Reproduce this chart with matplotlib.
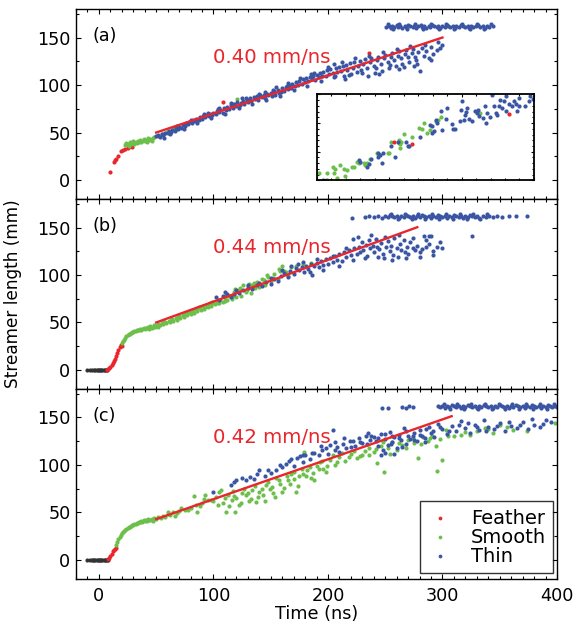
import matplotlib
matplotlib.use("Agg")
from matplotlib import pyplot as plt
from matplotlib.ticker import MultipleLocator

plt.rcParams["font.family"] = ["DejaVu Sans"]
plt.rcParams["font.size"] = 12.7

RED = "#e8262c"
GREEN = "#6cbf4a"
BLUE = "#3a55a4"
BLACK = "#333333"

# ---- panel (a) ----
a_feather = [(10, 8), (13, 19), (14, 21), (15, 22), (17, 25), (19, 31), (21, 32), (23, 33),
             (25, 34), (27, 36), (24, 38), (29, 35), (108, 82), (236, 134)]
a_smooth = [(23, 37), (24, 39), (25, 38), (26, 36), (27, 40), (28, 38), (29, 39), (30, 41),
            (31, 38), (32, 40), (33, 39), (34, 41), (35, 40), (36, 42), (37, 40), (38, 41),
            (39, 43), (40, 41), (41, 42), (42, 40), (43, 44), (44, 42), (45, 43), (46, 41),
            (47, 44), (48, 45), (52, 46), (55, 48), (58, 49), (60, 52), (62, 50), (65, 55),
            (68, 54), (121, 85)]
a_thin = [(50, 46), (52, 47), (53, 45), (55, 48), (56, 47), (58, 50), (60, 49), (61, 52), (63, 51),
          (64, 53), (66, 52), (67, 55), (69, 54), (70, 56), (72, 55), (73, 58), (75, 57), (76, 60),
          (78, 59), (79, 61), (81, 60), (82, 63), (84, 62), (85, 64), (87, 63), (88, 66), (90, 64),
          (91, 67), (93, 66), (94, 68), (96, 67), (97, 70), (99, 68), (100, 71), (102, 70), (103, 73),
          (105, 72), (106, 74), (108, 71), (109, 76), (111, 74), (112, 77), (114, 75), (115, 79),
          (117, 76), (118, 80), (120, 78), (121, 82), (123, 79), (124, 81), (126, 83), (127, 80),
          (129, 84), (130, 82), (132, 86), (133, 83), (135, 87), (136, 85), (138, 88), (139, 84),
          (141, 89), (142, 87), (144, 90), (145, 86), (147, 91), (148, 89), (150, 92), (151, 88),
          (153, 94), (154, 90), (156, 95), (157, 92), (159, 93), (160, 97), (162, 94), (163, 98),
          (165, 96), (166, 100), (168, 97), (169, 101), (171, 99), (172, 103), (174, 100), (175, 104),
          (177, 101), (178, 106), (180, 103), (181, 107), (183, 104), (184, 108), (186, 106),
          (187, 110), (189, 105), (190, 111), (192, 108), (193, 113), (195, 109), (196, 114),
          (198, 110), (199, 116), (201, 112), (202, 117), (204, 113), (205, 108), (207, 118),
          (208, 114), (210, 119), (211, 115), (213, 120), (214, 110), (216, 121), (217, 116),
          (219, 123), (220, 112), (222, 118), (223, 124), (225, 114), (226, 120), (228, 125),
          (229, 116), (231, 122), (232, 127), (234, 118), (235, 110), (237, 124), (238, 128),
          (240, 120), (241, 113), (243, 126), (244, 130), (246, 122), (247, 115), (249, 128),
          (250, 132), (252, 124), (253, 118), (255, 130), (256, 134), (258, 126), (259, 120),
          (261, 131), (262, 136), (264, 128), (265, 122), (267, 133), (268, 137), (270, 129),
          (271, 124), (273, 134), (274, 138), (276, 130), (277, 126), (279, 135), (280, 115),
          (282, 139), (284, 131), (286, 136), (288, 128), (290, 140), (292, 133), (295, 137),
          (298, 139), (300, 142)]
a_thin_wide = [(57, 44), (62, 48), (68, 57), (74, 54), (80, 63), (86, 60), (92, 69), (98, 65),
               (104, 75), (110, 69), (116, 80), (122, 76), (128, 86), (134, 80), (140, 91), (146, 84),
               (152, 95), (158, 88), (164, 99), (170, 95), (176, 107), (182, 99), (188, 113),
               (194, 104), (200, 119), (206, 110), (212, 124), (218, 111), (224, 128), (230, 113),
               (236, 131), (242, 118), (248, 135), (254, 121), (260, 138), (266, 119), (272, 141),
               (278, 122), (285, 142), (290, 126), (296, 145), (215, 106), (245, 112), (262, 117),
               (275, 120), (205, 122), (185, 112), (165, 102), (155, 98), (145, 93), (125, 86),
               (115, 81), (105, 76), (95, 71)]
a_plateau_t = [251, 253, 255, 256, 258, 260, 261, 263, 265, 267, 268, 270, 272, 274, 275, 277, 279,
               281, 282, 284, 286, 288, 289, 291, 293, 295, 296, 298, 300, 302, 304, 305, 307, 309,
               311, 312, 314, 316, 318, 320, 322, 323, 325, 327, 329, 331, 333, 335, 337, 339, 341, 344,
               252, 257, 262, 269, 276, 283, 290, 297, 303, 310, 317, 324, 330, 336, 342]
a_plateau_L = [161, 162, 160, 162, 161, 163, 161, 162, 160, 162, 161, 163, 162, 161, 162, 160, 162,
               163, 161, 162, 160, 162, 161, 163, 162, 161, 162, 160, 162, 161, 163, 162, 161, 162,
               160, 162, 161, 163, 162, 161, 162, 160, 162, 161, 162, 163, 161, 162, 160, 162, 161, 162,
               164, 159, 164, 159, 164, 159, 164, 159, 164, 159, 164, 159, 164, 159, 164]

# inset of panel (a)
ins_feather = [(10.6, 13.5), (13.1, 12.7), (26.6, 23.3)]
ins_smooth = [(0.3, 2.7), (1.4, 2.4), (1.3, 0.2), (1.4, 0.1), (2.3, 4.7), (2.5, 4.1), (2.4, 2.4),
              (2.8, 0.9), (3.2, 5.3), (3.7, 4.1), (3.9, 1.4), (4.2, 3.5), (4.8, 4.5), (5.1, 4.7),
              (5.5, 6.5), (5.8, 6.1), (6.5, 6.1), (6.7, 5.3), (6.9, 6.1), (7.4, 7.6), (8.3, 9.6),
              (8.5, 9.2), (9.8, 9.6), (10.0, 9.4), (10.2, 13.5), (11.3, 14.1), (11.4, 13.2),
              (11.5, 12.7), (11.7, 13.5), (11.5, 11.2), (12.1, 16.2), (13.2, 15.3), (14.1, 18.2),
              (14.8, 20.0), (14.5, 18.0), (15.2, 16.5), (15.7, 17.6), (16.5, 20.6), (17.1, 22.1),
              (16.8, 21.2), (22.6, 23.5)]
ins_thin = [(0.9, 0.2), (5.8, 7.1), (6.0, 6.5), (6.9, 4.7), (7.2, 5.6), (7.5, 7.6), (8.4, 9.4),
            (8.8, 8.8), (8.5, 8.2), (9.0, 6.1), (9.2, 9.6), (10.8, 8.2), (10.2, 12.0), (11.2, 13.3),
            (12.3, 13.5), (12.6, 12.1), (12.8, 12.0), (14.3, 15.3), (15.7, 19.4), (15.9, 18.8),
            (16.2, 17.3), (15.9, 16.5), (16.4, 21.2), (16.6, 20.0), (17.3, 17.6), (17.1, 24.1),
            (18.0, 25.3), (17.9, 21.4), (18.7, 19.6), (18.8, 17.9), (19.1, 17.9), (19.8, 20.6),
            (20.0, 27.6), (19.9, 24.5), (20.3, 21.2), (20.5, 22.9), (20.6, 23.8), (20.8, 25.3),
            (21.0, 21.4), (21.4, 20.6), (21.9, 24.1), (22.2, 23.5), (22.3, 24.7), (22.4, 22.4),
            (22.9, 21.8), (23.3, 25.9), (23.5, 23.5), (23.4, 20.0), (23.9, 22.1), (24.2, 29.7),
            (24.5, 26.1), (24.7, 23.5), (24.9, 22.9), (25.2, 26.1), (25.3, 28.2), (25.6, 25.3),
            (25.8, 27.6), (26.1, 29.6), (26.2, 24.1), (26.5, 26.5), (27.0, 25.9), (27.2, 27.6),
            (27.5, 26.5), (27.7, 24.1), (27.9, 28.8), (28.0, 26.1), (28.8, 26.1), (29.3, 27.6),
            (29.5, 29.6), (29.9, 28.5)]

# ---- panel (b) ----
b_idle_t = [-10, -8, -6, -4, -3, -2, -1, 0, 1, 2, 3, 4, 5, 6, 7]
b_feather = [(7, 0.5), (8, 1), (9, 2), (10, 3), (11, 5), (12, 7), (13, 9), (14, 12), (15, 15),
             (16, 18), (17, 21), (18, 24), (19, 26), (20, 25)]
b_smooth = [(20, 28), (21, 30), (22, 32), (23, 34), (24, 36), (25, 37), (26, 38), (27, 38), (28, 39),
            (29, 40), (30, 40), (31, 41), (32, 41), (33, 42), (34, 42), (35, 42), (36, 43), (37, 42),
            (38, 43), (39, 44), (40, 43), (41, 44), (42, 44), (43, 45), (44, 43), (45, 46), (46, 44),
            (47, 45), (48, 47), (49, 45), (50, 46), (52, 48), (53, 47), (55, 49), (56, 48), (58, 51),
            (59, 49), (61, 52), (62, 50), (64, 54), (65, 52), (67, 55), (68, 53), (70, 57), (71, 55),
            (73, 58), (74, 56), (76, 60), (77, 58), (79, 61), (80, 59), (82, 63), (83, 60), (85, 64),
            (86, 62), (88, 65), (89, 63), (91, 67), (92, 64), (94, 68), (95, 66), (97, 70), (98, 67),
            (100, 71), (101, 69), (103, 73), (104, 70), (106, 74), (108, 72), (110, 76), (112, 74),
            (114, 78), (116, 75), (118, 82), (120, 77), (122, 84), (124, 78), (126, 89), (128, 82),
            (130, 88), (133, 81), (134, 90), (136, 86), (138, 93), (140, 87), (142, 96), (145, 90),
            (148, 98), (150, 94), (153, 101), (156, 96), (158, 104), (160, 109), (163, 103), (165, 99)]
b_smooth_wide = [(52, 45), (57, 50), (63, 53), (69, 56), (75, 59), (81, 61), (87, 66), (93, 66),
                 (99, 72), (105, 71), (111, 79), (117, 78), (123, 86), (129, 84), (135, 92), (141, 90),
                 (147, 100), (152, 97), (157, 106), (162, 104), (168, 108), (172, 110), (178, 112),
                 (185, 113), (119, 85), (131, 91), (144, 95), (110, 73), (96, 69)]
b_thin = [(102, 77), (105, 74), (108, 78), (112, 80), (115, 77), (118, 80), (122, 81), (126, 84),
          (130, 86), (134, 85), (138, 90), (142, 88), (146, 93), (150, 91), (153, 96), (156, 94),
          (159, 99), (162, 102), (165, 98), (167, 104), (170, 101), (172, 107), (174, 112), (175, 105),
          (177, 108), (179, 103), (181, 110), (183, 106), (185, 112), (186, 100), (188, 109),
          (190, 113), (192, 108), (194, 115), (196, 111), (198, 117), (200, 112), (202, 118),
          (204, 114), (206, 120), (208, 116), (210, 122), (212, 115), (214, 124), (216, 119),
          (218, 126), (220, 121), (222, 138), (223, 128), (225, 122), (227, 130), (228, 124),
          (230, 135), (231, 126), (233, 132), (234, 120), (236, 137), (237, 128), (239, 131),
          (240, 124), (242, 138), (243, 130), (245, 127), (246, 134), (248, 122), (249, 118),
          (251, 129), (252, 136), (254, 125), (255, 131), (257, 121), (258, 139), (260, 128),
          (261, 119), (263, 133), (264, 126), (266, 137), (267, 124), (269, 130), (270, 122),
          (272, 135), (274, 128), (276, 126), (278, 131), (280, 124), (282, 127), (284, 141),
          (286, 129), (288, 133), (290, 141), (292, 125), (295, 130), (326, 141)]
b_thin_wide = [(110, 82), (120, 84), (130, 90), (140, 92), (150, 97), (160, 105), (168, 110),
               (178, 114), (184, 103), (190, 117), (196, 105), (204, 120), (210, 109), (216, 128),
               (222, 116), (226, 140), (232, 118), (238, 142), (244, 119), (250, 140), (256, 116),
               (262, 142), (268, 118), (274, 139), (280, 119), (286, 137), (292, 121), (298, 135),
               (300, 128), (288, 141)]
b_plateau_t = [221, 232, 236, 240, 244, 247, 250, 252, 254, 256, 258, 260, 262, 264, 266, 268, 270,
               272, 274, 276, 278, 280, 282, 284, 286, 288, 290, 292, 294, 296, 298, 300, 302, 304,
               306, 308, 310, 312, 314, 316, 318, 320, 322, 324, 326, 328, 330, 332, 335, 338, 341,
               344, 348, 352, 358, 364, 374, 255, 261, 267, 273, 279, 285, 291, 297, 303, 309, 315,
               321, 327, 333, 339]
b_plateau_L = [160, 161, 162, 161, 162, 160, 162, 161, 163, 162, 161, 162, 160, 162, 161, 163, 162,
               161, 162, 160, 162, 161, 163, 162, 161, 162, 160, 162, 161, 163, 162, 161, 162, 160,
               162, 161, 163, 162, 161, 162, 160, 162, 161, 163, 162, 161, 162, 160, 162, 161, 162,
               161, 162, 161, 162, 162, 162, 164, 159, 164, 159, 164, 159, 164, 159, 164, 159, 164,
               159, 164, 159, 164]

# ---- panel (c) ----
c_idle_t = [-10, -8, -6, -5, -4, -3, -2, -1, 0, 1, 2, 3, 4, 5, 6, 7, 8]
c_feather = [(8, 1), (9, 2), (10, 4), (11, 6), (12, 9), (13, 11), (14, 12), (15, 13)]
c_smooth = [(15, 16), (16, 19), (17, 22), (18, 24), (19, 26), (20, 28), (21, 29), (22, 31), (23, 32),
            (24, 33), (25, 34), (26, 35), (27, 35), (28, 36), (29, 37), (30, 37), (31, 38), (32, 38),
            (33, 39), (34, 39), (35, 40), (36, 40), (37, 41), (38, 40), (39, 42), (40, 41), (41, 42),
            (42, 41), (43, 43), (44, 42), (45, 42), (46, 43), (47, 41), (48, 44), (50, 43), (52, 45),
            (54, 44), (56, 46), (58, 45), (60, 48), (62, 47), (65, 50), (68, 49), (70, 52), (75, 53),
            (80, 55), (85, 58), (90, 60), (95, 63), (83, 67), (86, 51), (93, 68), (98, 63), (102, 66),
            (105, 72), (108, 60), (111, 50), (113, 68), (116, 63), (118, 67), (119, 50), (122, 58),
            (125, 70), (128, 68), (131, 62), (134, 74), (137, 61), (140, 72), (143, 68), (146, 79),
            (149, 75), (152, 70), (155, 86), (158, 80), (162, 76), (165, 84), (168, 90), (170, 93),
            (172, 72), (175, 88), (178, 90), (179, 114), (182, 95), (185, 86), (187, 92), (190, 99),
            (193, 103), (196, 96), (198, 93), (202, 105), (206, 100), (210, 108), (215, 104),
            (220, 112), (225, 107), (228, 109), (232, 115), (236, 111), (240, 114), (243, 102),
            (246, 120), (249, 93), (252, 118), (256, 124), (260, 116), (265, 121), (270, 126),
            (275, 123), (279, 107), (283, 129), (287, 125), (291, 131), (295, 94), (298, 127),
            (300, 105), (303, 137), (310, 131), (316, 132), (324, 132), (330, 136), (337, 139),
            (344, 134), (356, 140), (362, 137), (374, 136), (398, 144)]
c_smooth_wide = [(60, 50), (66, 46), (72, 55), (78, 53), (88, 57), (92, 64), (100, 62), (104, 58),
                 (107, 74), (110, 65), (114, 57), (117, 73), (120, 65), (124, 60), (127, 75), (130, 70),
                 (133, 64), (136, 78), (139, 66), (142, 75), (145, 62), (148, 82), (151, 77), (154, 66),
                 (157, 84), (160, 72), (164, 88), (167, 80), (170, 85), (174, 78), (177, 96), (181, 88),
                 (184, 98), (188, 84), (192, 96), (195, 104), (199, 99), (204, 110), (208, 103),
                 (212, 113), (218, 108), (223, 115), (230, 111), (236, 118), (242, 117), (248, 124),
                 (254, 112), (262, 123), (268, 118), (274, 128), (281, 122), (289, 128), (294, 120),
                 (305, 130), (320, 135), (340, 138), (350, 142)]
c_thin = [(100, 72), (115, 79), (118, 82), (125, 86), (128, 84), (132, 87), (135, 85), (140, 95),
          (145, 88), (150, 92), (155, 95), (160, 98), (163, 101), (166, 104), (170, 99), (173, 107),
          (176, 109), (178, 103), (180, 111), (184, 106), (188, 113), (192, 110), (195, 116),
          (198, 118), (200, 112), (202, 121), (204, 137), (206, 116), (208, 119), (210, 114),
          (213, 122), (216, 118), (219, 125), (222, 125), (224, 120), (227, 128), (230, 123),
          (233, 131), (235, 134), (237, 126), (240, 129), (242, 125), (244, 120), (246, 133),
          (246, 110), (248, 116), (250, 127), (250, 113), (252, 121), (254, 135), (256, 124),
          (258, 129), (258, 112), (260, 118), (262, 132), (264, 126), (266, 139), (268, 122),
          (270, 130), (272, 127), (275, 134), (278, 125), (280, 137), (282, 131), (285, 128),
          (288, 140), (290, 134), (293, 129), (296, 143), (300, 138), (304, 133), (308, 141),
          (312, 136), (316, 146), (320, 139), (324, 134), (328, 142), (332, 137), (336, 147),
          (340, 140), (345, 138), (350, 144), (355, 136), (360, 141), (365, 139), (370, 145),
          (375, 138), (380, 142), (385, 140), (390, 147), (395, 145)]
c_thin_wide = [(120, 84), (138, 90), (148, 95), (158, 100), (168, 106), (178, 110), (186, 113),
               (194, 120), (206, 124), (214, 128), (220, 119), (228, 124), (234, 122), (238, 131),
               (244, 128), (250, 133), (256, 130), (262, 128), (268, 136), (274, 130), (280, 132),
               (286, 138), (292, 136), (298, 140), (306, 136), (314, 142), (322, 144), (330, 140),
               (338, 136), (348, 141), (358, 145), (368, 142), (378, 148), (388, 143), (255, 122),
               (265, 119), (275, 126), (285, 124)]
c_plateau_t = [247, 252, 265, 268, 271, 274, 296, 298, 300, 302, 304, 306, 308, 310, 312, 314, 316,
               318, 320, 322, 324, 326, 328, 330, 332, 334, 336, 338, 340, 342, 344, 346, 348, 350,
               352, 354, 356, 358, 360, 362, 364, 366, 368, 370, 372, 374, 376, 378, 380, 382, 384,
               386, 388, 390, 392, 394, 396, 398, 400, 301, 307, 313, 319, 325, 331, 337, 343, 349,
               355, 361, 367, 373, 379, 385, 391, 397]
c_plateau_L = [160, 160, 161, 160, 162, 161, 162, 161, 162, 160, 162, 161, 163, 162, 161, 162, 160,
               162, 161, 163, 162, 161, 162, 160, 162, 161, 163, 162, 161, 162, 160, 162, 161, 163,
               162, 161, 162, 160, 162, 161, 163, 162, 161, 162, 160, 162, 161, 163, 162, 161, 162,
               160, 162, 161, 163, 162, 161, 162, 161, 164, 159, 164, 159, 164, 159, 164, 159, 164,
               159, 164, 159, 164, 159, 164, 159, 164]

# fitted velocity lines: (t_start, t_end, L_start, slope)
fits = [(50, 300, 50, 0.40), (50, 278, 50, 0.44), (50, 308, 43, 0.42)]
labels = ["(a)", "(b)", "(c)"]
speeds = ["0.40 mm/ns", "0.44 mm/ns", "0.42 mm/ns"]

MS = 9


def dots(ax, pts, color, label=None, s=MS, z=2):
    ax.scatter([p[0] for p in pts], [p[1] for p in pts], s=s, c=color,
               linewidths=0, label=label, zorder=z)


def style(ax, xlim, ylim, xmaj, xmin, ymaj, ymin):
    ax.set_xlim(*xlim)
    ax.set_ylim(*ylim)
    ax.xaxis.set_major_locator(MultipleLocator(xmaj))
    ax.xaxis.set_minor_locator(MultipleLocator(xmin))
    ax.yaxis.set_major_locator(MultipleLocator(ymaj))
    ax.yaxis.set_minor_locator(MultipleLocator(ymin))
    ax.tick_params(which="both", direction="in", top=True, right=True, width=0.8)
    ax.tick_params(which="major", length=3.5)
    ax.tick_params(which="minor", length=2)
    ax.tick_params(axis="x", which="major", pad=6)
    ax.tick_params(axis="y", which="major", pad=4)
    for sp in ax.spines.values():
        sp.set_linewidth(1.0)


fig = plt.figure(figsize=(5.76, 6.27), dpi=100)
left, width, h = 0.132, 0.835, 0.303
bottoms = [0.6826, 0.3796, 0.0766]
axes = [fig.add_axes([left, b, width, h]) for b in bottoms]

panels = [
    (None, a_feather, a_smooth, a_thin + a_thin_wide, a_plateau_t, a_plateau_L),
    (b_idle_t, b_feather, b_smooth + b_smooth_wide, b_thin + b_thin_wide, b_plateau_t, b_plateau_L),
    (c_idle_t, c_feather, c_smooth + c_smooth_wide, c_thin + c_thin_wide, c_plateau_t, c_plateau_L),
]

for i, ax in enumerate(axes):
    idle, fea, smo, thi, pt, pl = panels[i]
    if idle is not None:
        ax.scatter(idle, [0] * len(idle), s=MS, c=BLACK, linewidths=0, zorder=2)
    dots(ax, fea, RED, "Feather")
    dots(ax, smo, GREEN, "Smooth")
    dots(ax, thi, BLUE, "Thin")
    ax.scatter(pt, pl, s=MS, c=BLUE, linewidths=0, zorder=2)
    t0, t1, L0, k = fits[i]
    ax.plot([t0, t1], [L0, L0 + k * (t1 - t0)], color=RED, lw=1.7, zorder=4)
    ax.text(100, 129, speeds[i], color=RED, va="center", ha="left", fontsize=14.2)
    ax.text(0.034, 0.86, labels[i], transform=ax.transAxes, va="center", ha="left")
    style(ax, (-20, 400), (-20, 180), 100, 10, 50, 25)
    if i < 2:
        ax.tick_params(labelbottom=False)

axes[2].set_xlabel("Time (ns)", labelpad=0)
fig.text(0.022, 0.531, "Streamer length (mm)", rotation=90, va="center", ha="center",
         fontsize=12.2)

leg = axes[2].legend(loc="lower right", bbox_to_anchor=(0.992, 0.032), frameon=True,
                     fancybox=False, edgecolor="black", handlelength=1.26, handletextpad=0.95,
                     labelspacing=0.0, borderpad=0.38, markerscale=0.9, scatterpoints=1,
                     fontsize=14, borderaxespad=0)
leg.get_frame().set_linewidth(1.0)

# inset
ins = fig.add_axes([0.550, 0.7124, 0.377, 0.137])
dots(ins, ins_smooth, GREEN, s=9)
dots(ins, ins_thin, BLUE, s=9)
dots(ins, ins_feather, RED, s=9)
style(ins, (0, 30), (0, 30), 10, 2, 10, 2)
ins.tick_params(labelbottom=False, labelleft=False)
ins.tick_params(which="major", length=2.5)
ins.tick_params(which="minor", length=1.5)
for sp in ins.spines.values():
    sp.set_linewidth(1.3)

fig.savefig("out.png", dpi=100)
